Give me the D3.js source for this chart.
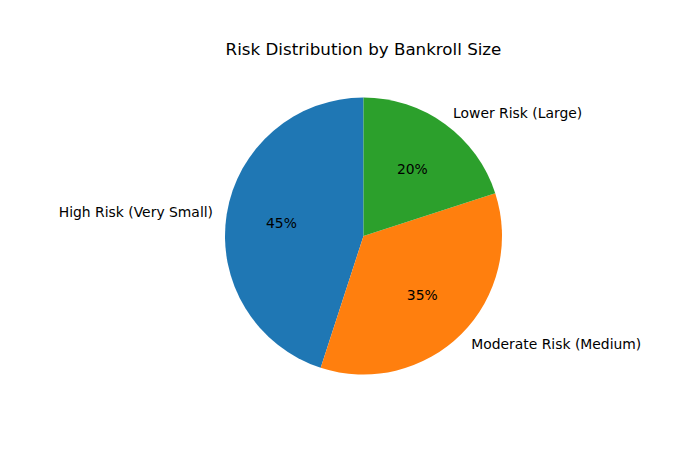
<!DOCTYPE html>
<html>
<head>
<meta charset="utf-8">
<script src="https://cdn.jsdelivr.net/npm/d3@7"></script>
<style>
  body { margin: 0; background: #fff; }
  text { font-family: "DejaVu Sans", sans-serif; fill: #000; }
</style>
</head>
<body>
<div id="vis"></div>
<script>
// Risk distribution pie

var labels = ['High Risk (Very Small)', 'Moderate Risk (Medium)', 'Lower Risk (Large)'];
var shares = [45, 35, 20];
var colors = ['#1f77b4', '#ff7f0e', '#2ca02c'];

var W = 700, H = 450;
var cx = 363.5, cy = 236, r = 138.5;

var svg = d3.select('#vis').append('svg')
  .attr('width', W)
  .attr('height', H);

svg.append('text')
  .attr('x', cx)
  .attr('y', 49)
  .attr('text-anchor', 'middle')
  .attr('dominant-baseline', 'central')
  .style('font-size', '16.7px')
  .text('Risk Distribution by Bankroll Size');

var g = svg.append('g')
  .attr('transform', `translate(${cx},${cy})`);

// counterclockwise from the top, like matplotlib startangle=90
var pie = d3.pie().sort(null).startAngle(0).endAngle(-2 * Math.PI);
var arcs = pie(shares);

var arc = d3.arc().innerRadius(0).outerRadius(r);

g.selectAll('path')
  .data(arcs)
  .join('path')
  .attr('d', arc)
  .attr('fill', (d, i) => colors[i]);

function mid(d) { return (d.startAngle + d.endAngle) / 2; }

g.selectAll('text.label')
  .data(arcs)
  .join('text')
  .attr('class', 'label')
  .attr('x', d => Math.sin(mid(d)) * r * 1.1)
  .attr('y', d => -Math.cos(mid(d)) * r * 1.1)
  .attr('text-anchor', d => Math.sin(mid(d)) > 0 ? 'start' : 'end')
  .attr('dominant-baseline', 'central')
  .style('font-size', '13.9px')
  .text((d, i) => labels[i]);

g.selectAll('text.pct')
  .data(arcs)
  .join('text')
  .attr('class', 'pct')
  .attr('x', d => Math.sin(mid(d)) * r * 0.6)
  .attr('y', d => -Math.cos(mid(d)) * r * 0.6)
  .attr('text-anchor', 'middle')
  .attr('dominant-baseline', 'central')
  .style('font-size', '13.9px')
  .text(d => d.data + '%');
</script>
</body>
</html>
